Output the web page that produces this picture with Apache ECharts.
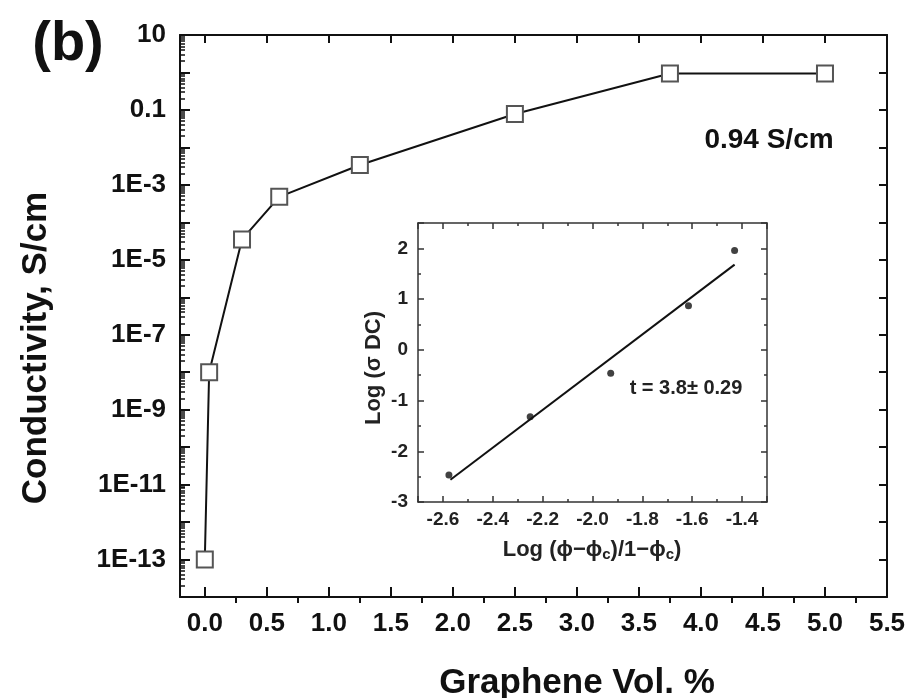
<!DOCTYPE html>
<html>
<head>
<meta charset="utf-8">
<script src="https://cdn.jsdelivr.net/npm/echarts@6/dist/echarts.min.js"></script>
<style>
  html, body { margin: 0; padding: 0; background: #fff; }
  #main { width: 910px; height: 698px; }
</style>
</head>
<body>
<div id="main"></div>
<script>
// 主图：石墨烯体积分数 vs 电导率
var volFrac = [0, 0.035, 0.3, 0.6, 1.25, 2.5, 3.75, 5.0];
var conductivity = [1e-13, 1e-8, 3.5e-5, 4.8e-4, 3.4e-3, 0.078, 0.94, 0.94];
// y轴标签(每两个数量级一个)
var yTickExp = [-13, -11, -9, -7, -5, -3, -1, 1];
var yTickLabels = ['1E-13', '1E-11', '1E-9', '1E-7', '1E-5', '1E-3', '0.1', '10'];

// 插图：Log(φ-φc)/(1-φc) vs Log(σ DC)
var logPhi = [-2.576, -2.25, -1.927, -1.615, -1.43];
var logSigma = [-2.47, -1.32, -0.46, 0.87, 1.96];
// 拟合直线两端
var fitX = [-2.57, -1.43];
var fitY = [-2.56, 1.68];

var FONT = '"Liberation Sans", Arial, sans-serif';

// 对数次刻度 2..9 x 10^e
var logMinor = [];
for (var e = -14; e < 1; e++) {
  for (var k = 2; k <= 9; k++) {
    logMinor.push(k * Math.pow(10, e));
  }
}

var chart = echarts.init(document.getElementById('main'));

var mainX = {
  type: 'value',
  gridIndex: 0,
  min: -0.2,
  max: 5.5,
  splitNumber: 11,
  splitLine: { show: false }
};
var insetX = {
  type: 'value',
  gridIndex: 1,
  min: -2.7,
  max: -1.3,
  splitNumber: 7,
  splitLine: { show: false }
};
var insetY = {
  type: 'value',
  gridIndex: 1,
  min: -3,
  max: 2.5,
  splitNumber: 5,
  splitLine: { show: false }
};
var mainY = {
  type: 'log',
  logBase: 10,
  gridIndex: 0,
  min: 1e-14,
  max: 10,
  interval: 1,
  splitLine: { show: false }
};

var option = {
  animation: false,
  backgroundColor: '#fff',
  grid: [
    { left: 180, top: 35, width: 707, height: 562 },
    { left: 418, top: 223, width: 349, height: 279 }
  ],
  xAxis: [
    Object.assign({}, mainX, {
      position: 'bottom',
      axisLine: { onZero: false, lineStyle: { color: '#111', width: 2 } },
      axisTick: { inside: true, length: 10, lineStyle: { color: '#111', width: 2 } },
      axisLabel: {
        fontSize: 26, fontWeight: 'bold', fontFamily: FONT, color: '#111', margin: 14,
        showMinLabel: false,
        formatter: function (v) { return v < 0 ? '' : v.toFixed(1); }
      }
    }),
    // 次刻度朝外
    Object.assign({}, mainX, {
      position: 'bottom',
      axisLine: { show: false, onZero: false },
      axisLabel: { show: false },
      axisTick: { show: false, inside: false },
      minorTick: { show: true, splitNumber: 2, length: 6, lineStyle: { color: '#111', width: 2 } }
    }),
    Object.assign({}, mainX, {
      position: 'top',
      axisLine: { onZero: false, lineStyle: { color: '#111', width: 2 } },
      axisLabel: { show: false },
      axisTick: { inside: true, length: 8, lineStyle: { color: '#111', width: 2 } }
    }),
    Object.assign({}, insetX, {
      position: 'bottom',
      axisLine: { onZero: false, lineStyle: { color: '#333', width: 1.5 } },
      axisTick: { inside: true, length: 6, lineStyle: { color: '#333', width: 1.5 } },
      minorTick: { show: true, splitNumber: 2, length: 3, lineStyle: { color: '#333', width: 1.5 } },
      axisLabel: {
        fontSize: 19, fontWeight: 'bold', fontFamily: FONT, color: '#222', margin: 8,
        showMinLabel: false, showMaxLabel: false,
        formatter: function (v) { return v.toFixed(1); }
      }
    }),
    Object.assign({}, insetX, {
      position: 'top',
      axisLine: { onZero: false, lineStyle: { color: '#333', width: 1.5 } },
      axisTick: { inside: true, length: 6, lineStyle: { color: '#333', width: 1.5 } },
      minorTick: { show: true, splitNumber: 2, length: 3, lineStyle: { color: '#333', width: 1.5 } },
      axisLabel: { show: false }
    })
  ],
  yAxis: [
    Object.assign({}, mainY, {
      position: 'left',
      axisLine: { onZero: false, lineStyle: { color: '#111', width: 2 } },
      axisTick: { inside: true, length: 10, lineStyle: { color: '#111', width: 2 } },
      axisLabel: {
        fontSize: 26, fontWeight: 'bold', fontFamily: FONT, color: '#111', margin: 14,
        formatter: function (v) {
          var i = yTickExp.indexOf(Math.round(Math.log10(v)));
          return i < 0 ? '' : yTickLabels[i];
        }
      }
    }),
    Object.assign({}, mainY, {
      position: 'left',
      axisLine: { show: false, onZero: false },
      axisLabel: { show: false },
      axisTick: { inside: true, length: 5, customValues: logMinor, lineStyle: { color: '#111', width: 1.5 } }
    }),
    Object.assign({}, mainY, {
      position: 'right',
      axisLine: { onZero: false, lineStyle: { color: '#111', width: 2 } },
      axisLabel: { show: false },
      axisTick: { inside: true, length: 8, lineStyle: { color: '#111', width: 2 } }
    }),
    Object.assign({}, insetY, {
      position: 'left',
      axisLine: { onZero: false, lineStyle: { color: '#333', width: 1.5 } },
      axisTick: { inside: true, length: 6, lineStyle: { color: '#333', width: 1.5 } },
      minorTick: { show: true, splitNumber: 2, length: 3, lineStyle: { color: '#333', width: 1.5 } },
      axisLabel: {
        fontSize: 19, fontWeight: 'bold', fontFamily: FONT, color: '#222', margin: 10,
        showMaxLabel: false
      }
    }),
    Object.assign({}, insetY, {
      position: 'right',
      axisLine: { onZero: false, lineStyle: { color: '#333', width: 1.5 } },
      axisTick: { inside: true, length: 6, lineStyle: { color: '#333', width: 1.5 } },
      minorTick: { show: true, splitNumber: 2, length: 3, lineStyle: { color: '#333', width: 1.5 } },
      axisLabel: { show: false }
    })
  ],
  series: [
    {
      type: 'line',
      xAxisIndex: 0,
      yAxisIndex: 0,
      data: volFrac.map(function (x, i) { return [x, conductivity[i]]; }),
      symbol: 'rect',
      symbolSize: 16,
      lineStyle: { color: '#111', width: 2 },
      itemStyle: { color: '#fff', borderColor: '#555', borderWidth: 2 }
    },
    {
      type: 'line',
      xAxisIndex: 3,
      yAxisIndex: 3,
      data: fitX.map(function (x, i) { return [x, fitY[i]]; }),
      showSymbol: false,
      lineStyle: { color: '#111', width: 2 }
    },
    {
      type: 'scatter',
      xAxisIndex: 3,
      yAxisIndex: 3,
      data: logPhi.map(function (x, i) { return [x, logSigma[i]]; }),
      symbolSize: 7,
      itemStyle: { color: '#111' }
    }
  ],
  graphic: [
    {
      type: 'text', x: 68, y: 45,
      style: { text: '(b)', font: 'bold 56px ' + FONT, fill: '#111', align: 'center', verticalAlign: 'middle', textAlign: 'center', textVerticalAlign: 'middle' }
    },
    {
      type: 'text', x: 36, y: 348, rotation: Math.PI / 2,
      style: { text: 'Conductivity, S/cm', font: 'bold 35px ' + FONT, fill: '#111', align: 'center', verticalAlign: 'middle', textAlign: 'center', textVerticalAlign: 'middle' }
    },
    {
      type: 'text', x: 577, y: 683,
      style: { text: 'Graphene Vol. %', font: 'bold 35px ' + FONT, fill: '#111', align: 'center', verticalAlign: 'middle', textAlign: 'center', textVerticalAlign: 'middle' }
    },
    {
      type: 'text', x: 769, y: 140,
      style: { text: '0.94 S/cm', font: 'bold 28px ' + FONT, fill: '#111', align: 'center', verticalAlign: 'middle', textAlign: 'center', textVerticalAlign: 'middle' }
    },
    {
      type: 'text', x: 686, y: 388,
      style: { text: 't = 3.8± 0.29', font: 'bold 20px ' + FONT, fill: '#222', align: 'center', verticalAlign: 'middle', textAlign: 'center', textVerticalAlign: 'middle' }
    },
    {
      type: 'text', x: 374, y: 368, rotation: Math.PI / 2,
      style: { text: 'Log (σ DC)', font: 'bold 22px ' + FONT, fill: '#222', align: 'center', verticalAlign: 'middle', textAlign: 'center', textVerticalAlign: 'middle' }
    },
    {
      type: 'text', x: 592, y: 550,
      style: {
        text: '{n|Log (ϕ−ϕ}{s|c}{n|)/1−ϕ}{s|c}{n|)}',
        fill: '#222', align: 'center', verticalAlign: 'middle', textAlign: 'center', textVerticalAlign: 'middle',
        rich: {
          n: { fontSize: 22, fontWeight: 'bold', fontFamily: FONT, fill: '#222', verticalAlign: 'top', height: 27, lineHeight: 27 },
          s: { fontSize: 15, fontWeight: 'bold', fontFamily: FONT, fill: '#222', verticalAlign: 'top', padding: [11, 0, 0, 0], lineHeight: 22 }
        }
      }
    }
  ]
};

chart.setOption(option);
</script>
</body>
</html>
